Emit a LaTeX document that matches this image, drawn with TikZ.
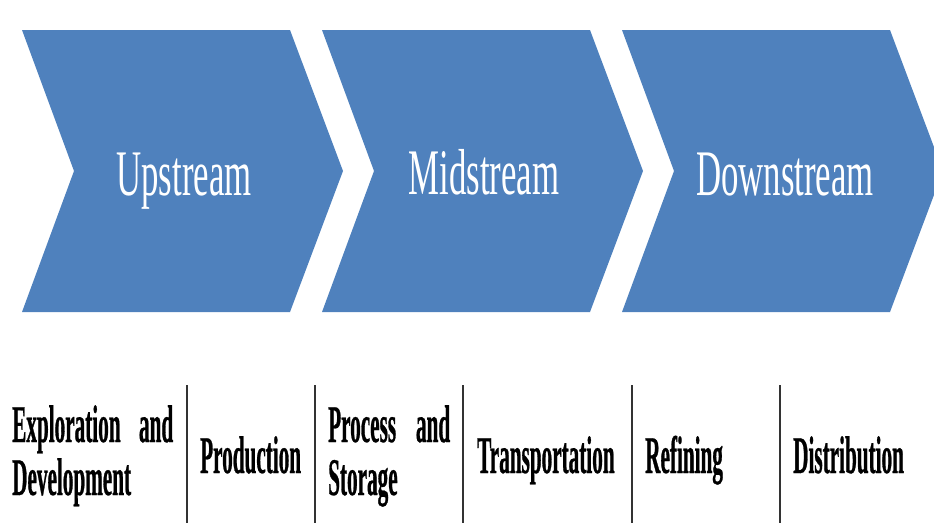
\documentclass[tikz,border=0pt]{standalone}
\usepackage{fontspec}
\setmainfont{Liberation Serif}
\newfontfamily\topfont[FakeStretch=0.535]{Liberation Serif}
\newfontfamily\botfont[FakeStretch=0.40,BoldFeatures={FakeBold=0.5}]{Liberation Serif}
\definecolor{chevblue}{HTML}{4F81BD}
\definecolor{sepgray}{HTML}{333333}
\tikzset{
  chevron/.style={fill=chevblue, draw=none},
  toplabel/.style={inner sep=0pt, anchor=base, text=white, font=\topfont\fontsize{65}{70}\selectfont},
  botlabel/.style={inner sep=0pt, anchor=base west, text=black, font=\botfont\bfseries\fontsize{53}{58}\selectfont},
  sepline/.style={draw=sepgray, line width=1.3pt}
}
\begin{document}
\begin{tikzpicture}[x=1pt,y=-1pt]
\useasboundingbox (0,0) rectangle (934,531);
\clip (0,0) rectangle (934,531);
\foreach \dx in {0,300,600}{
  \fill[chevron] (22+\dx,30) -- (290+\dx,30) -- (343+\dx,171) -- (290+\dx,312) -- (22+\dx,312) -- (74+\dx,171) -- cycle;
}
\node[toplabel] (up) at (184,195) {Upstream};
\node[toplabel] (mid) at (484,194) {Midstream};
\node[toplabel] (down) at (785,195) {Downstream};

\node[botlabel] (expl1) at (12,442) {\makebox[161pt][s]{Exploration\hfill and}};
\node[botlabel] (expl2) at (12,495) {Development};
\node[botlabel] (prod) at (200,473) {Production};
\node[botlabel] (proc1) at (328,442) {\makebox[122pt][s]{Process\hfill and}};
\node[botlabel] (proc2) at (328,495) {Storage};
\node[botlabel] (trans) at (477,473) {Transportation};
\node[botlabel] (ref) at (645,473) {Refining};
\node[botlabel] (dist) at (793,473) {Distribution};

\foreach \x in {187,315,463,632,780}{
  \draw[sepline] (\x,385) -- (\x,523);
}
\end{tikzpicture}
\end{document}
